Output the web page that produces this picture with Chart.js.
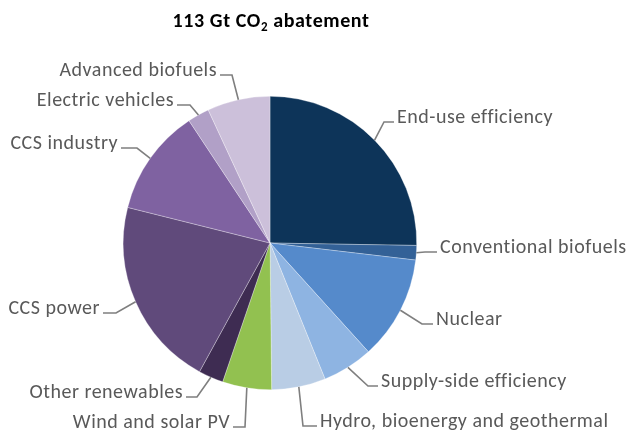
<!DOCTYPE html>
<html>
<head>
<meta charset="utf-8">
<script src="https://cdn.jsdelivr.net/npm/chart.js@4.4.0/dist/chart.umd.min.js"></script>
<style>
  body { margin: 0; background: #fff; }
  #wrap { width: 629px; height: 431px; }
</style>
</head>
<body>
<div id="wrap"><canvas id="grafico" width="629" height="431"></canvas></div>
<script>
// abatement by technology, Gt CO2 (total ~113)
const categorias = [
    'End-use efficiency', 'Conventional biofuels', 'Nuclear', 'Supply-side efficiency',
    'Hydro, bioenergy and geothermal', 'Wind and solar PV', 'Other renewables',
    'CCS power', 'CCS industry', 'Electric vehicles', 'Advanced biofuels'
];
const valores = [28.5, 1.8, 12.9, 6.3, 6.7, 6.1, 3.1, 23.6, 13.3, 2.7, 7.8];
const colores = [
    '#0d3459', '#336197', '#558acb', '#8eb4e2', '#b9cde5', '#92c150',
    '#3e2c52', '#604a7b', '#7f62a1', '#b1a0c7', '#ccc0da'
];
const titulo = ['113 Gt CO', '2', ' abatement'];

// where each label sits: text edge x, baseline y, side, length of the flat part of the leader
const etiquetas = [
    { x: 397, y: 123, lado: 'left', tramo: 10 },
    { x: 440, y: 253, lado: 'left', tramo: 12 },
    { x: 436, y: 325, lado: 'left', tramo: 11 },
    { x: 381, y: 387, lado: 'left', tramo: 10 },
    { x: 320, y: 427, lado: 'left', tramo: 14 },
    { x: 230, y: 428, lado: 'right', tramo: 12 },
    { x: 183, y: 398, lado: 'right', tramo: 11 },
    { x: 100, y: 314, lado: 'right', tramo: 13 },
    { x: 118, y: 149, lado: 'right', tramo: 16 },
    { x: 174, y: 106, lado: 'right', tramo: 13 },
    { x: 217, y: 76, lado: 'right', tramo: 12 }
];

const fuente = "Carlito, Lato, 'Liberation Sans', sans-serif";

const pluginEtiquetas = {
    id: 'etiquetas',
    afterDraw: (chart) => {
        const ctx = chart.ctx;
        const arcos = chart.getDatasetMeta(0).data;
        ctx.save();
        ctx.font = `20px ${fuente}`;
        ctx.letterSpacing = '0.5px';
        ctx.textBaseline = 'alphabetic';
        arcos.forEach((arco, i) => {
            const e = etiquetas[i];
            const p = arco.getProps(['x', 'y', 'startAngle', 'endAngle', 'outerRadius'], true);
            const medio = (p.startAngle + p.endAngle) / 2;
            const ax = p.x + Math.cos(medio) * p.outerRadius;
            const ay = p.y + Math.sin(medio) * p.outerRadius;
            const signo = e.lado === 'left' ? -1 : 1;
            const fin = e.x + signo * 3;
            const codo = fin + signo * e.tramo;
            const ly = e.y - 1;
            ctx.strokeStyle = '#7f7f7f';
            ctx.lineWidth = 1.6;
            ctx.beginPath();
            ctx.moveTo(ax, ay);
            ctx.lineTo(codo, ly);
            ctx.lineTo(fin, ly);
            ctx.stroke();
            ctx.fillStyle = '#595959';
            ctx.textAlign = e.lado;
            ctx.fillText(categorias[i], e.x, e.y);
        });

        // title with subscript 2
        const grande = `bold 20px ${fuente}`;
        const chico = `bold 13px ${fuente}`;
        ctx.letterSpacing = '0.6px';
        ctx.font = grande;
        const w1 = ctx.measureText(titulo[0]).width;
        const w3 = ctx.measureText(titulo[2]).width;
        ctx.font = chico;
        const w2 = ctx.measureText(titulo[1]).width;
        let x = 271 - (w1 + w2 + w3) / 2;
        ctx.fillStyle = '#000';
        ctx.textAlign = 'left';
        ctx.font = grande;
        ctx.fillText(titulo[0], x, 27);
        x += w1;
        ctx.font = chico;
        ctx.fillText(titulo[1], x, 31);
        x += w2;
        ctx.font = grande;
        ctx.fillText(titulo[2], x, 27);
        ctx.restore();
    }
};

const ctx = document.getElementById('grafico').getContext('2d');
const miGrafico = new Chart(ctx, {
    type: 'pie',
    data: {
        labels: categorias,
        datasets: [{
            data: valores,
            backgroundColor: colores,
            borderColor: 'rgba(255,255,255,0.5)',
            borderWidth: 0.6
        }]
    },
    options: {
        responsive: false,
        animation: false,
        devicePixelRatio: 1,
        layout: { padding: { top: 96, bottom: 41, left: 123, right: 212 } },
        plugins: {
            legend: { display: false },
            title: { display: false },
            tooltip: { enabled: false }
        }
    },
    plugins: [pluginEtiquetas]
});
</script>
</body>
</html>
